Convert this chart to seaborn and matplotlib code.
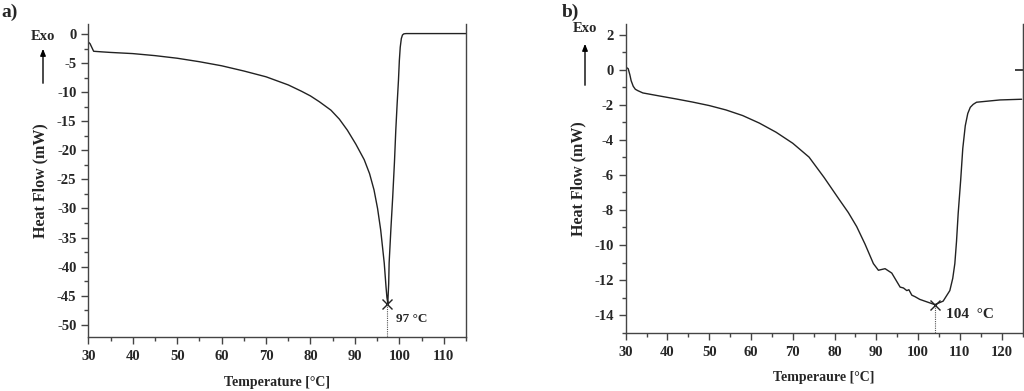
import numpy as np
import pandas as pd
import matplotlib
matplotlib.use("Agg")
import matplotlib.pyplot as plt
from matplotlib.ticker import MultipleLocator, NullLocator
from matplotlib.patches import FancyArrowPatch
import seaborn as sns

# panel a) DSC curve
temp_a = [30.0, 30.4, 31.2, 33.0, 35.0, 40.0, 45.0, 50.0, 55.0, 60.0, 65.0, 70.0,
          75.0, 78.0, 80.0, 82.0, 84.6, 86.5, 88.3, 90.2, 92.1, 93.3, 94.3, 95.1,
          95.8, 96.6, 97.0, 97.2, 97.4, 97.6, 97.7, 98.1, 98.5, 98.9, 99.2, 99.5,
          99.8, 100.0, 100.2, 100.45, 100.7, 101.0, 101.5, 108.0, 115.0]
flow_a = [-1.3, -1.6, -2.9, -3.0, -3.1, -3.3, -3.65, -4.1, -4.7, -5.4, -6.3, -7.3,
          -8.7, -9.8, -10.6, -11.6, -13.05, -14.6, -16.5, -18.9, -21.6, -24.0, -26.8,
          -30.0, -33.7, -39.4, -43.5, -45.3, -46.3, -43.0, -39.4, -33.5, -28.1, -22.0,
          -16.5, -12.0, -7.9, -4.5, -2.2, -0.7, -0.1, 0.1, 0.15, 0.15, 0.15]
peak_a = (97.3, -46.4)
label_a = "97 °C"

# panel b) DSC curve
temp_b = [30.3, 30.6, 31.0, 31.3, 31.8, 32.3, 32.9, 34.1, 38.0, 42.0, 46.0, 50.0,
          54.0, 58.0, 62.0, 66.0, 70.0, 73.9, 77.5, 81.1, 83.3, 85.3, 87.3, 89.3,
          90.5, 92.1, 93.7, 95.7, 96.5, 97.3, 97.8, 98.5, 99.3, 100.4, 102.8, 104.0,
          106.0, 107.6, 108.3, 108.8, 109.2, 109.6, 110.2, 110.7, 111.3, 111.9,
          112.5, 113.2, 114.0, 119.6, 124.8]
flow_b = [0.1, 0.05, -0.3, -0.63, -0.95, -1.12, -1.2, -1.33, -1.5, -1.67, -1.85, -2.05,
          -2.3, -2.62, -3.05, -3.57, -4.2, -4.99, -6.15, -7.4, -8.15, -8.95, -9.95, -11.06,
          -11.44, -11.35, -11.6, -12.4, -12.45, -12.6, -12.55, -12.86, -12.95, -13.1,
          -13.3, -13.4, -13.2, -12.6, -11.9, -11.06, -9.8, -8.2, -6.3, -4.5, -3.2,
          -2.5, -2.15, -1.98, -1.86, -1.73, -1.69]
peak_b = (104.0, -13.4)
label_b = "104  °C"

xticks_a = [30, 40, 50, 60, 70, 80, 90, 100, 110]
yticks_a = [0, -5, -10, -15, -20, -25, -30, -35, -40, -45, -50]
xticks_b = [30, 40, 50, 60, 70, 80, 90, 100, 110, 120]
yticks_b = [2, 0, -2, -4, -6, -8, -10, -12, -14]

sns.set_style("ticks")
plt.rcParams['font.family'] = ['Liberation Serif', 'DejaVu Serif']
plt.rcParams['font.weight'] = 'bold'
plt.rcParams['axes.labelweight'] = 'bold'

W, H = 1024, 391
fig = plt.figure(figsize=(W / 100, H / 100), dpi=100)


def px_box(left, top, right, bottom):
    return [left / W, 1 - bottom / H, (right - left) / W, (bottom - top) / H]


ax_a = fig.add_axes(px_box(88.3, 24, 466, 337.3))
ax_b = fig.add_axes(px_box(625.7, 24, 1022.5, 332.7))

line_col = "#222222"
df_a = pd.DataFrame({"T": temp_a, "HF": flow_a})
df_b = pd.DataFrame({"T": temp_b, "HF": flow_b})
sns.lineplot(data=df_a, x="T", y="HF", ax=ax_a, color=line_col, lw=1.0, sort=False)
sns.lineplot(data=df_b, x="T", y="HF", ax=ax_b, color=line_col, lw=1.0, sort=False)

ax_a.set_xlim(30, 115)
ax_a.set_ylim(-52.2, 1.8)
ax_a.xaxis.set_minor_locator(MultipleLocator(5))
ax_a.yaxis.set_minor_locator(MultipleLocator(2.5))

ax_b.set_xlim(30, 125)
ax_b.set_ylim(-15, 2.6)
ax_b.xaxis.set_minor_locator(MultipleLocator(5))
ax_b.yaxis.set_minor_locator(MultipleLocator(1))

tick_fs = 10.5
for ax, xt, yt, peak, lab, dx, dy, xl in [
        (ax_a, xticks_a, yticks_a, peak_a, label_a, 1.9, -2.6, "Temperature [°C]"),
        (ax_b, xticks_b, yticks_b, peak_b, label_b, 2.6, -0.55, "Temperaure [°C]")]:
    ax.set_xticks(xt)
    ax.set_xticklabels([str(v) for v in xt], fontsize=tick_fs, fontweight="bold")
    ax.set_yticks(yt)
    ax.set_yticklabels([str(v) for v in yt], fontsize=tick_fs, fontweight="bold")
    for s in ["left", "bottom", "right"]:
        ax.spines[s].set_color("#444444")
        ax.spines[s].set_linewidth(1.0)
    ax.spines["top"].set_visible(False)
    ax.tick_params(which="major", length=5, width=1, color="#444444")
    ax.tick_params(axis="x", which="major", pad=4.5)
    ax.tick_params(which="minor", length=3, width=1, color="#444444")
    ax.set_xlabel(xl, fontsize=10, fontweight="bold", labelpad=9)
    ax.set_ylabel("Heat Flow (mW)", fontsize=11.5, fontweight="bold", labelpad=6)
    ax.plot([peak[0]], [peak[1]], marker="x", ms=7, mew=1.0, color=line_col)
    ax.plot([peak[0], peak[0]], [peak[1], ax.get_ylim()[0]], ls=(0, (1, 1)),
            lw=0.8, color="#555555")
    ax.text(peak[0] + dx, peak[1] + dy, lab, fontsize=9.5 if ax is ax_a else 11,
            fontweight="bold", va="center", ha="left")

# single inward tick on the right spine of panel b at 0
sec = ax_b.secondary_yaxis("right")
sec.set_yticks([0])
sec.tick_params(direction="in", length=6, width=1.2, color="#222222", labelright=False)
sec.yaxis.set_minor_locator(NullLocator())
sec.spines["right"].set_color("#444444")

# panel letters and Exo arrows
fig.text(1 / W, 1 - 12 / H, "a)", fontsize=14, fontweight="bold", va="center")
fig.text(562 / W, 1 - 12 / H, "b)", fontsize=14, fontweight="bold", va="center")
for cx, ty, y0, y1 in [(43, 36, 86, 46), (585, 29, 88, 41)]:
    fig.text(cx / W, 1 - ty / H, "Exo", fontsize=10.5, fontweight="bold",
             ha="center", va="center")
    fig.add_artist(FancyArrowPatch(
        (cx / W, 1 - y0 / H), (cx / W, 1 - y1 / H), transform=fig.transFigure,
        arrowstyle="-|>,head_length=4,head_width=1.6", lw=1.0, color="black"))

fig.savefig("out.png", dpi=100)
